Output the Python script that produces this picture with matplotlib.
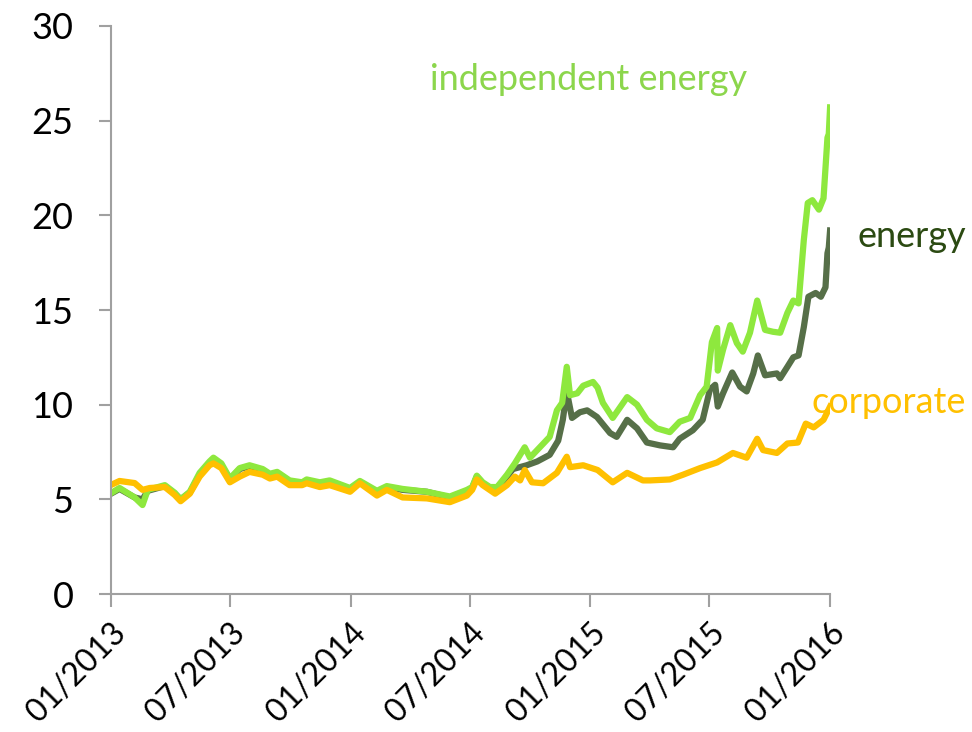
import pandas as pd
import matplotlib
matplotlib.use("Agg")
import matplotlib.pyplot as plt
import matplotlib.dates as mdates

# corporate spread (orange)
corp_dates = ["2013-01-01", "2013-01-14", "2013-02-06", "2013-02-18", "2013-03-01", "2013-03-24",
              "2013-04-08", "2013-04-17", "2013-05-01", "2013-05-16", "2013-05-31", "2013-06-06",
              "2013-06-18", "2013-07-01", "2013-07-16", "2013-07-31", "2013-08-20", "2013-08-31",
              "2013-09-11", "2013-09-30", "2013-10-19", "2013-10-26", "2013-11-15", "2013-11-30",
              "2013-12-31", "2014-01-15", "2014-02-10", "2014-02-25", "2014-03-21", "2014-04-27",
              "2014-06-01", "2014-06-27", "2014-07-05", "2014-07-12", "2014-07-21", "2014-08-09",
              "2014-08-27", "2014-09-08", "2014-09-16", "2014-09-23", "2014-10-04", "2014-10-21",
              "2014-11-11", "2014-11-26", "2014-12-01", "2014-12-21", "2015-01-12", "2015-02-04",
              "2015-02-26", "2015-03-22", "2015-04-02", "2015-05-02", "2015-05-22", "2015-06-17",
              "2015-07-13", "2015-08-06", "2015-08-27", "2015-09-12", "2015-09-21", "2015-10-12",
              "2015-10-28", "2015-11-13", "2015-11-25", "2015-12-07", "2015-12-22", "2016-01-01"]
corp_vals = [5.76, 5.97, 5.86, 5.5, 5.6, 5.65,
             5.23, 4.9, 5.3, 6.2, 6.8, 6.9,
             6.65, 5.9, 6.2, 6.45, 6.3, 6.1,
             6.2, 5.75, 5.75, 5.85, 5.65, 5.75,
             5.4, 5.85, 5.2, 5.5, 5.1, 5.05,
             4.85, 5.2, 5.5, 6.05, 5.75, 5.3,
             5.75, 6.2, 6.0, 6.55, 5.9, 5.85,
             6.4, 7.25, 6.7, 6.8, 6.55, 5.9,
             6.4, 6.0, 6.0, 6.05, 6.3, 6.65,
             6.95, 7.45, 7.2, 8.2, 7.6, 7.45,
             7.95, 8.0, 9.0, 8.8, 9.2, 9.9]

# independent energy (light green)
ind_dates = ["2013-01-01", "2013-01-14", "2013-02-06", "2013-02-18", "2013-02-26", "2013-03-24",
             "2013-04-08", "2013-04-17", "2013-05-01", "2013-05-16", "2013-05-31", "2013-06-06",
             "2013-06-18", "2013-07-01", "2013-07-16", "2013-07-31", "2013-08-20", "2013-08-31",
             "2013-09-11", "2013-09-30", "2013-10-19", "2013-10-26", "2013-11-15", "2013-11-30",
             "2013-12-31", "2014-01-15", "2014-02-10", "2014-02-25", "2014-03-21", "2014-04-27",
             "2014-06-01", "2014-06-27", "2014-07-05", "2014-07-12", "2014-07-21", "2014-08-01",
             "2014-08-12", "2014-08-27", "2014-09-08", "2014-09-23", "2014-10-01", "2014-10-16",
             "2014-10-31", "2014-11-11", "2014-11-19", "2014-11-26", "2014-12-01", "2014-12-12",
             "2014-12-21", "2015-01-05", "2015-01-12", "2015-01-20", "2015-02-04", "2015-02-26",
             "2015-03-13", "2015-03-28", "2015-04-12", "2015-05-02", "2015-05-17", "2015-06-02",
             "2015-06-17", "2015-06-27", "2015-07-05", "2015-07-13", "2015-07-14", "2015-07-22",
             "2015-08-02", "2015-08-12", "2015-08-21", "2015-09-01", "2015-09-12", "2015-09-24",
             "2015-10-06", "2015-10-17", "2015-10-28", "2015-11-06", "2015-11-14", "2015-11-22",
             "2015-11-28", "2015-12-05", "2015-12-15", "2015-12-22", "2015-12-28", "2015-12-30",
             "2016-01-01"]
ind_vals = [5.33, 5.6, 5.1, 4.7, 5.5, 5.75,
            5.35, 5.0, 5.4, 6.4, 7.0, 7.2,
            6.9, 6.1, 6.65, 6.8, 6.6, 6.35,
            6.45, 6.0, 5.9, 6.05, 5.9, 6.0,
            5.6, 5.97, 5.45, 5.7, 5.55, 5.4,
            5.15, 5.5, 5.65, 6.25, 5.9, 5.65,
            5.65, 6.3, 6.9, 7.75, 7.2, 7.75,
            8.3, 9.7, 10.1, 12.0, 10.5, 10.6,
            11.0, 11.2, 10.9, 10.1, 9.3, 10.4,
            10.0, 9.2, 8.75, 8.55, 9.1, 9.3,
            10.5, 10.95, 13.3, 14.05, 11.8, 12.9,
            14.2, 13.25, 12.8, 13.8, 15.5, 13.95,
            13.85, 13.8, 14.85, 15.5, 15.35, 18.7,
            20.65, 20.8, 20.3, 20.9, 24.1, 24.3,
            25.7]

# energy (dark green)
en_dates = ["2013-01-01", "2013-01-14", "2013-02-06", "2013-02-18", "2013-02-26", "2013-03-24",
            "2013-04-08", "2013-04-17", "2013-05-01", "2013-05-16", "2013-05-31", "2013-06-06",
            "2013-06-18", "2013-07-01", "2013-07-16", "2013-07-31", "2013-08-20", "2013-08-31",
            "2013-09-11", "2013-09-30", "2013-10-19", "2013-10-26", "2013-11-15", "2013-11-30",
            "2013-12-31", "2014-01-15", "2014-02-10", "2014-02-25", "2014-03-21", "2014-04-27",
            "2014-06-01", "2014-06-27", "2014-07-05", "2014-07-12", "2014-07-21", "2014-08-01",
            "2014-08-12", "2014-08-27", "2014-09-05", "2014-09-26", "2014-10-12", "2014-10-31",
            "2014-11-13", "2014-11-20", "2014-11-26", "2014-12-04", "2014-12-16", "2014-12-27",
            "2015-01-11", "2015-01-31", "2015-02-10", "2015-02-26", "2015-03-13", "2015-03-28",
            "2015-04-17", "2015-05-07", "2015-05-17", "2015-06-06", "2015-06-21", "2015-07-02",
            "2015-07-10", "2015-07-14", "2015-07-22", "2015-08-05", "2015-08-17", "2015-08-27",
            "2015-09-06", "2015-09-13", "2015-09-24", "2015-10-12", "2015-10-17", "2015-10-28",
            "2015-11-06", "2015-11-14", "2015-11-22", "2015-11-29", "2015-12-10", "2015-12-18",
            "2015-12-25", "2015-12-28", "2015-12-30", "2016-01-01"]
en_vals = [5.3, 5.55, 5.1, 5.0, 5.45, 5.7,
           5.3, 5.0, 5.35, 6.3, 6.9, 7.1,
           6.8, 6.05, 6.6, 6.75, 6.55, 6.3,
           6.4, 5.95, 5.85, 6.0, 5.85, 5.95,
           5.55, 5.9, 5.4, 5.65, 5.5, 5.4,
           5.1, 5.45, 5.6, 6.2, 5.85, 5.6,
           5.6, 6.2, 6.6, 6.8, 7.0, 7.35,
           8.1, 9.2, 10.7, 9.3, 9.6, 9.7,
           9.35, 8.5, 8.3, 9.2, 8.75, 8.0,
           7.85, 7.75, 8.2, 8.65, 9.2, 10.8,
           11.05, 9.9, 10.6, 11.7, 10.95, 10.7,
           11.65, 12.6, 11.55, 11.65, 11.4, 12.0,
           12.5, 12.6, 14.1, 15.7, 15.9, 15.7,
           16.2, 18.0, 18.3, 19.2]

tick_dates = ["2013-01-01", "2013-07-01", "2014-01-01", "2014-07-01",
              "2015-01-01", "2015-07-01", "2016-01-01"]

c_ind = "#8EE83E"
c_en = "#566F48"
c_corp = "#FFC000"

plt.rcParams['font.family'] = ['Lato', 'DejaVu Sans']

fig = plt.figure(figsize=(9.72, 7.32), dpi=100)
ax = fig.add_axes([0.1142, 0.1885, 0.7398, 0.776])

ax.plot(pd.to_datetime(en_dates), en_vals, color=c_en, lw=4.5, solid_joinstyle='round')
ax.plot(pd.to_datetime(ind_dates), ind_vals, color=c_ind, lw=4.5, solid_joinstyle='round')
ax.plot(pd.to_datetime(corp_dates), corp_vals, color=c_corp, lw=4.5, solid_joinstyle='round')

ax.set_xlim(pd.Timestamp("2013-01-01"), pd.Timestamp("2016-01-01"))
ax.set_ylim(0, 30)
ax.set_yticks([0, 5, 10, 15, 20, 25, 30])
ax.set_xticks(pd.to_datetime(tick_dates))
ax.xaxis.set_major_formatter(mdates.DateFormatter('%m/%Y'))

for s in ['top', 'right']:
    ax.spines[s].set_visible(False)
for s in ['left', 'bottom']:
    ax.spines[s].set_color('#A0A0A0')
    ax.spines[s].set_linewidth(1.5)
ax.tick_params(axis='both', colors='#A0A0A0', width=1.5, length=9, labelcolor='black')
ax.tick_params(axis='y', pad=18, labelsize=26)
ax.tick_params(axis='x', pad=8, labelsize=23)
plt.setp(ax.get_xticklabels(), rotation=45, ha='right', rotation_mode='anchor')

ax.text(pd.Timestamp("2014-05-02"), 27.15, "independent energy", color="#8CD64C",
        fontsize=26, ha='left', va='center', clip_on=False)
ax.text(pd.Timestamp("2016-02-12"), 18.86, "energy", color="#2B4A12",
        fontsize=26, ha='left', va='center', clip_on=False)
ax.text(pd.Timestamp("2015-12-03"), 10.14, "corporate", color=c_corp,
        fontsize=26, ha='left', va='center', clip_on=False)

fig.savefig("out.png", dpi=100)
